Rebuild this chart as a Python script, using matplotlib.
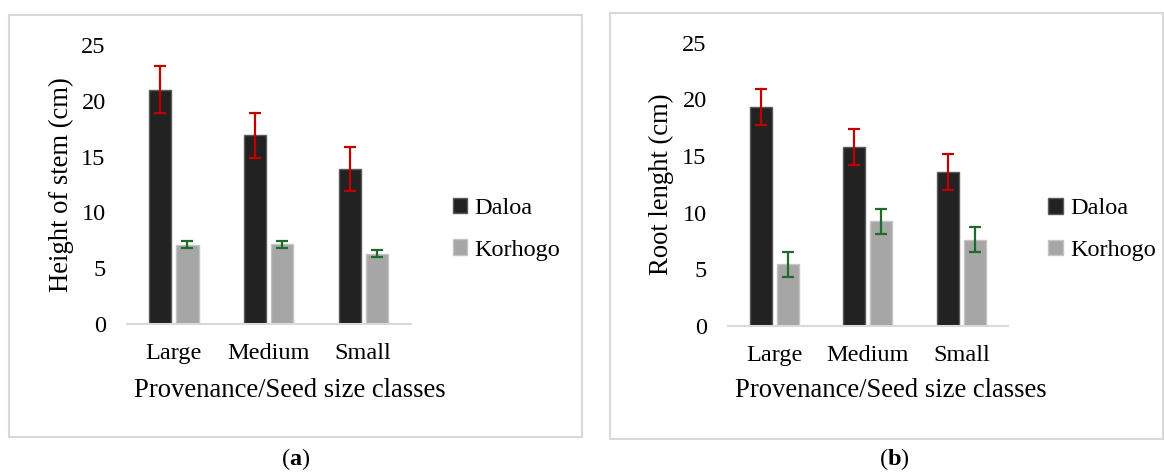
import numpy as np
import matplotlib.pyplot as plt
from matplotlib.patches import Rectangle

plt.rcParams['font.family'] = ['Liberation Serif', 'DejaVu Serif']
plt.rcParams['mathtext.fontset'] = 'custom'
plt.rcParams['mathtext.rm'] = 'Liberation Serif'
plt.rcParams['mathtext.bf'] = 'Liberation Serif:bold'

categories = ['Large', 'Medium', 'Small']
series = ['Daloa', 'Korhogo']

# (a) height of stem
stem_daloa = [21.0, 16.9, 13.9]
stem_daloa_err = [2.1, 2.0, 2.0]
stem_korhogo = [7.1, 7.15, 6.3]
stem_korhogo_err = [0.33, 0.33, 0.33]

# (b) root length
root_daloa = [19.3, 15.8, 13.6]
root_daloa_err = [1.6, 1.6, 1.6]
root_korhogo = [5.45, 9.25, 7.6]
root_korhogo_err = [1.1, 1.1, 1.1]

bar_colors = ['#222222', '#a6a6a6']
edge_colors = ['#5a5a5a', '#c4c4c4']
err_colors = ['#c00000', '#1f6b2c']
FS = 17.5
LFS = 19.2

fig = plt.figure(figsize=(11.64, 4.74), dpi=100)

# light grey frames around each panel
for x0, y0, x1, y1 in [(9, 15, 582, 437), (610, 13, 1163, 439)]:
    fig.patches.append(Rectangle((x0 / 1164, 1 - y1 / 474), (x1 - x0) / 1164, (y1 - y0) / 474,
                                 transform=fig.transFigure, fill=False,
                                 edgecolor='#d9d9d9', linewidth=1.5))


def draw_panel(ax, daloa, daloa_err, korhogo, korhogo_err, ylabel, ylab_x, xlab_x, xlab_y, leg_x):
    x = np.arange(len(categories))
    w = 0.235
    off = 0.143
    vals = [daloa, korhogo]
    errs = [daloa_err, korhogo_err]
    for i, s in enumerate(series):
        pos = x - off if i == 0 else x + off
        ax.bar(pos, vals[i], w, color=bar_colors[i], edgecolor=edge_colors[i],
               linewidth=1, label=s, zorder=2)
        ax.errorbar(pos, vals[i], yerr=errs[i], fmt='none', ecolor=err_colors[i],
                    elinewidth=1.6, capsize=4.3, capthick=1.6, zorder=3)
    ax.set_xlim(-0.5, 2.5)
    ax.set_ylim(0, 25)
    ax.set_yticks([0, 5, 10, 15, 20, 25])
    ax.set_xticks(x)
    ax.set_xticklabels(categories)
    ax.tick_params(axis='both', length=0, labelsize=FS)
    ax.tick_params(axis='y', pad=15)
    ax.tick_params(axis='x', pad=14)
    for sp in ['top', 'right', 'left']:
        ax.spines[sp].set_visible(False)
    ax.spines['bottom'].set_color('#d9d9d9')
    ax.spines['bottom'].set_linewidth(1.5)
    ax.set_ylabel(ylabel, fontsize=LFS)
    ax.yaxis.set_label_coords(ylab_x, 0.5)
    ax.set_xlabel('Provenance/Seed size classes', fontsize=LFS)
    ax.xaxis.set_label_coords(xlab_x, xlab_y)
    ax.xaxis.label.set_va('center')
    ax.legend(loc='center left', bbox_to_anchor=(leg_x, 0.34), frameon=False,
              fontsize=FS, handlelength=0.6, handleheight=0.6,
              handletextpad=0.3, labelspacing=0.85)


ax1 = fig.add_axes([0.1087, 0.3165, 0.244, 0.5886])
draw_panel(ax1, stem_daloa, stem_daloa_err, stem_korhogo, stem_korhogo_err,
           'Height of stem (cm)', -0.185, 0.575, -0.237, 1.072)

ax2 = fig.add_axes([0.625, 0.3122, 0.241, 0.5977])
draw_panel(ax2, root_daloa, root_daloa_err, root_korhogo, root_korhogo_err,
           'Root lenght (cm)', -0.19, 0.581, -0.226, 1.065)

fig.text(296 / 1164, 1 - 459 / 474, r'($\mathbf{a}$)', ha='center', va='center', fontsize=FS)
fig.text(894 / 1164, 1 - 459 / 474, r'($\mathbf{b}$)', ha='center', va='center', fontsize=FS)

plt.savefig('out.png', dpi=100)
